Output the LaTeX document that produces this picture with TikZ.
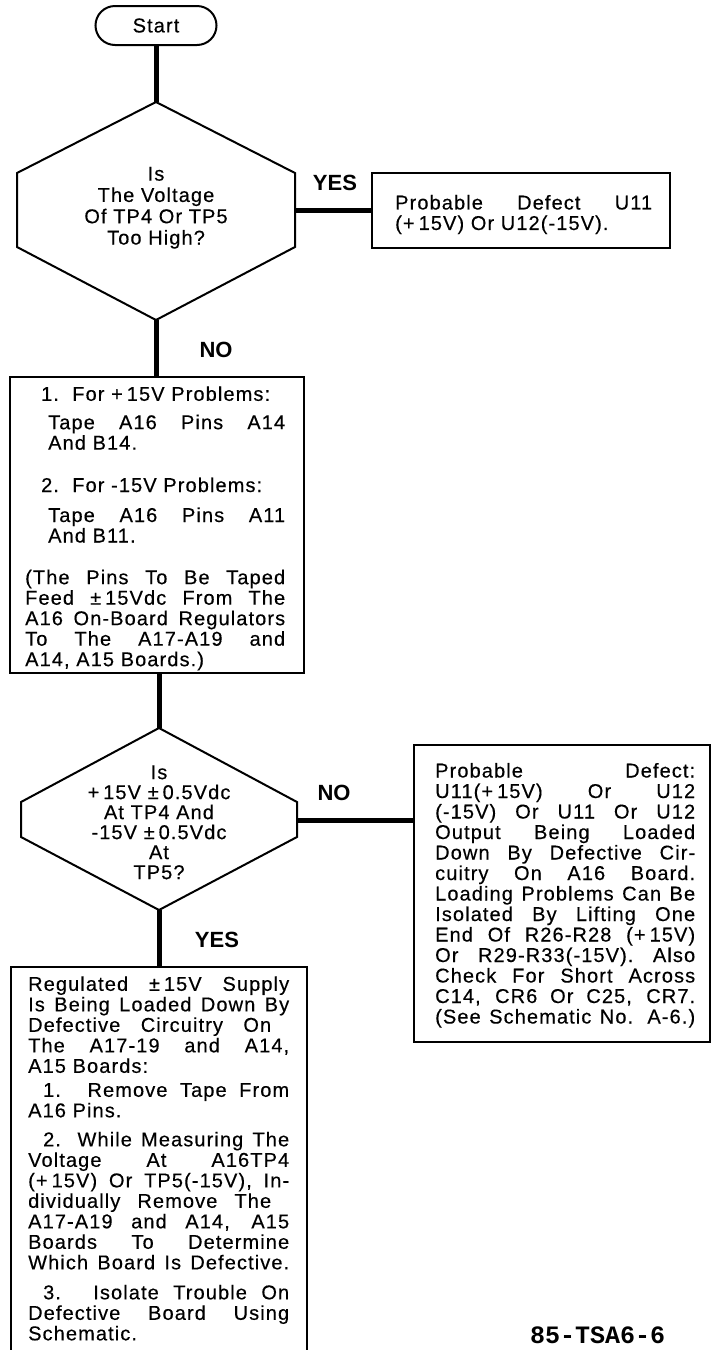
\documentclass[tikz,border=0pt]{standalone}
\usepackage{fontspec}
\usetikzlibrary{shapes.misc}
\newfontfamily\bodyfont{Liberation Sans}[LetterSpace=5.5,FakeBold=0.35]
\newfontfamily\labelfont{Liberation Sans}
\newfontfamily\footfont{Liberation Mono}
% text block, justified line, left line, fixed-width justified line, centred line
\newcommand\tb[2]{\vbox{\hsize=#1\lineskiplimit=-1000pt\relax #2}}
\newcommand\Lj[2][0pt]{\hbox to\hsize{\hskip#1\strut#2}}
\newcommand\Ll[2][0pt]{\hbox to\hsize{\hskip#1\strut#2\hfil}}
\newcommand\Lw[2]{\hbox to#1{\strut#2}}
\newcommand\Lc[1]{\hbox to\hsize{\hfil\strut#1\hfil}}
\newcommand\pls{+\kern4pt}
\newcommand\pms{±\kern4pt}
\begin{document}
\begin{tikzpicture}[x=1pt,y=-1pt,
  frame/.style={draw, line width=2pt, inner sep=0pt},
  conn/.style={line width=5pt},
  txt/.style={inner sep=0pt, font=\bodyfont\fontsize{20}{20.5}\selectfont},
  lab/.style={inner sep=0pt, font=\labelfont\bfseries\fontsize{22}{24}\selectfont},
  hexline/.style={line width=2pt, line join=miter}]
\useasboundingbox (0,0) rectangle (712,1350);
\fill[white] (0,0) rectangle (712,1350);
\clip (0,0) rectangle (712,1350);

% Start
\node[frame, rounded rectangle, minimum width=121pt, minimum height=39pt,
      font=\bodyfont\fontsize{20}{20.5}\selectfont] (start) at (156,25.5) {Start};

% Hexagon 1
\coordinate (h1t) at (156,102);
\coordinate (h1ur) at (295,173);
\coordinate (h1lr) at (295,247);
\coordinate (h1b) at (156,320);
\coordinate (h1ll) at (17,247);
\coordinate (h1ul) at (17,173);
\coordinate (h1r) at (295,210);
\draw[hexline] (h1t) -- (h1ur) -- (h1lr) -- (h1b) -- (h1ll) -- (h1ul) -- cycle;
\node[inner sep=0pt, anchor=north, font=\bodyfont\fontsize{20}{21.3}\selectfont] (q1) at (156,165.5)
  {\tb{250pt}{\Lc{Is}\Lc{The Voltage}\Lc{Of TP4 Or TP5}\Lc{Too High?}}};

% Box 1
\node[frame, minimum width=298pt, minimum height=75pt] (b1) at (521,210.5) {};
\node[txt, anchor=north west] (b1t) at (395,194.8)
  {\tb{257pt}{\Lj{Probable Defect U11}\Ll{(\pls 15V) Or U12(-15V).}}};

% Box 2
\node[frame, minimum width=294pt, minimum height=296pt] (b2) at (157,525) {};
\node[txt, anchor=north west] (b2t) at (25,386.1)
  {\tb{260pt}{
   \Ll[16pt]{1.\ \ For \pls 15V Problems:}
   \vskip7.9pt
   \Lj[23pt]{Tape A16 Pins A14}
   \Ll[23pt]{And B14.}
   \vskip21.8pt
   \Ll[16pt]{2.\ \ For -15V Problems:}
   \vskip9.5pt
   \Lj[23pt]{Tape A16 Pins A11}
   \Ll[23pt]{And B11.}
   \vskip21.2pt
   \Lj{(The Pins To Be Taped}
   \Lj{Feed \pms 15Vdc From The}
   \Lj{A16 On-Board Regulators}
   \Lj{To The A17-A19 and}
   \Ll{A14, A15 Boards.)}}};

% Hexagon 2
\coordinate (h2t) at (159,728);
\coordinate (h2ur) at (297,802);
\coordinate (h2lr) at (297,837);
\coordinate (h2b) at (159,910);
\coordinate (h2ll) at (21,837);
\coordinate (h2ul) at (21,802);
\coordinate (h2r) at (297,820);
\draw[hexline] (h2t) -- (h2ur) -- (h2lr) -- (h2b) -- (h2ll) -- (h2ul) -- cycle;
\node[inner sep=0pt, anchor=north, font=\bodyfont\fontsize{20}{20}\selectfont] (q2) at (159,764.9)
  {\tb{250pt}{\Lc{Is}\Lc{\pls 15V \pms 0.5Vdc}\Lc{At TP4 And}\Lc{-15V \pms 0.5Vdc}\Lc{At}\Lc{TP5?}}};

% Box 3
\node[frame, minimum width=296pt, minimum height=297pt] (b3) at (562,893.5) {};
\node[txt, anchor=north west] (b3t) at (435,762.8)
  {\tb{260pt}{
   \Lj{Probable Defect:}
   \Lj{U11(\pls 15V) Or U12}
   \Lj{(-15V) Or U11 Or U12}
   \Lj{Output Being Loaded}
   \Lj{Down By Defective Cir-}
   \Lj{cuitry On A16 Board.}
   \Lj{Loading Problems Can Be}
   \Lj{Isolated By Lifting One}
   \Lj{End Of R26-R28 (\pls 15V)}
   \Lj{Or R29-R33(-15V). Also}
   \Lj{Check For Short Across}
   \Lj{C14, CR6 Or C25, CR7.}
   \Lj{(See Schematic No. A-6.)}}};

% Box 4 (runs off the bottom of the sheet)
\node[frame, minimum width=296pt, minimum height=403pt] (b4) at (159,1168.5) {};
\node[txt, anchor=north west] (b4t) at (28,976.1)
  {\tb{261pt}{
   \Lj{Regulated \pms 15V Supply}
   \Lj{Is Being Loaded Down By}
   \Lw{243pt}{Defective Circuitry On}
   \Lj{The A17-19 and A14,}
   \Ll{A15 Boards:}
   \vskip3.5pt
   \Lj[15pt]{1. Remove Tape From}
   \Ll{A16 Pins.}
   \vskip8.5pt
   \Lj[15pt]{2. While Measuring The}
   \Lj{Voltage At A16TP4}
   \Lj{(\pls 15V) Or TP5(-15V), In-}
   \Lw{243pt}{dividually Remove The}
   \Lj{A17-A19 and A14, A15}
   \Lj{Boards To Determine}
   \Lj{Which Board Is Defective.}
   \vskip9.5pt
   \Lj[15pt]{3. Isolate Trouble On}
   \Lj{Defective Board Using}
   \Ll{Schematic.}}};

% Connectors
\draw[conn] (start.south) -- (h1t);
\draw[conn] (h1r) -- (h1r -| b1.west);
\draw[conn] (h1b) -- (h1b |- b2.north);
\draw[conn] (b2.south -| h2t) -- (h2t);
\draw[conn] (h2r) -- (h2r -| b3.west);
\draw[conn] (h2b) -- (h2b |- b4.north);

% Labels
\node[lab] (yes1) at (335,183) {YES};
\node[lab] (no1) at (216,350) {NO};
\node[lab] (no2) at (334,793) {NO};
\node[lab] (yes2) at (217,940) {YES};

% Drawing number
\node[inner sep=0pt, anchor=base west, font=\footfont\bfseries\fontsize{25}{28}\selectfont] (code) at (530,1343) {85-TSA6-6};
\end{tikzpicture}
\end{document}
